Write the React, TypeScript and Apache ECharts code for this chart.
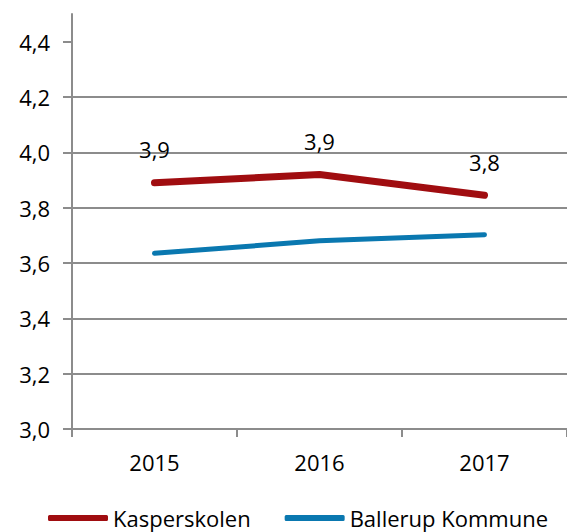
import React, { useEffect, useRef } from "react";
import * as echarts from "echarts";

const years = ["2015", "2016", "2017"];
const kasperskolen = [3.89, 3.92, 3.845];
const ballerup = [3.635, 3.68, 3.702];
const yTicks = [3.0, 3.2, 3.4, 3.6, 3.8, 4.0, 4.2, 4.4];

const FONT = "'Open Sans', sans-serif";
const fmt = (v: number) => (Math.round(v * 10) / 10).toFixed(1).replace(".", ",");

export default function App() {
  const ref = useRef<HTMLDivElement>(null);
  useEffect(() => {
    if (!ref.current) return;
    const chart = echarts.init(ref.current, undefined, { renderer: "svg" });
    chart.setOption({
      animation: false,
      textStyle: { fontFamily: FONT },
      grid: { left: 72, top: 14, bottom: 103, right: -5, containLabel: false },
      legend: {
        left: 48,
        top: 506,
        padding: 0,
        itemWidth: 60,
        itemHeight: 6,
        itemGap: 34,
        icon: "roundRect",
        textStyle: { fontFamily: FONT, fontSize: 22, lineHeight: 24, color: "#000" },
        data: ["Kasperskolen", "Ballerup Kommune"],
      },
      xAxis: {
        type: "category",
        data: years,
        boundaryGap: true,
        axisLine: { lineStyle: { color: "#8c8c8c", width: 2 } },
        axisTick: { show: true, length: 8, lineStyle: { color: "#8c8c8c", width: 2 } },
        axisLabel: { fontFamily: FONT, fontSize: 22, color: "#000", margin: 22 },
      },
      yAxis: {
        type: "value",
        min: 3.0,
        max: 4.5,
        interval: 0.2,
        axisLine: { show: true, lineStyle: { color: "#8c8c8c", width: 2 } },
        axisTick: { show: true, length: 9, customValues: yTicks, lineStyle: { color: "#8c8c8c", width: 2 } },
        axisLabel: {
          fontFamily: FONT,
          fontSize: 22,
          color: "#000",
          margin: 22,
          customValues: yTicks,
          formatter: (v: number) => fmt(v),
        },
        splitLine: { show: true, showMaxLine: false, lineStyle: { color: "#8c8c8c", width: 2 } },
      },
      series: [
        {
          name: "Kasperskolen",
          type: "line",
          data: kasperskolen,
          symbol: "circle",
          symbolSize: 1,
          showSymbol: true,
          itemStyle: { color: "#A00D10" },
          lineStyle: { color: "#A00D10", width: 7, cap: "round", join: "round" },
          label: {
            show: true,
            position: "top",
            distance: 22,
            fontFamily: FONT,
            fontSize: 22,
            color: "#000",
            formatter: (p: any) => fmt(p.value),
          },
        },
        {
          name: "Ballerup Kommune",
          type: "line",
          data: ballerup,
          symbol: "none",
          itemStyle: { color: "#0A78B0" },
          lineStyle: { color: "#0A78B0", width: 5, cap: "round", join: "round" },
        },
      ],
    });
    return () => chart.dispose();
  }, []);
  return (
    <div
      ref={ref}
      style={{ position: "absolute", left: 0, top: 0, width: 567, height: 532, background: "#fff" }}
    />
  );
}
